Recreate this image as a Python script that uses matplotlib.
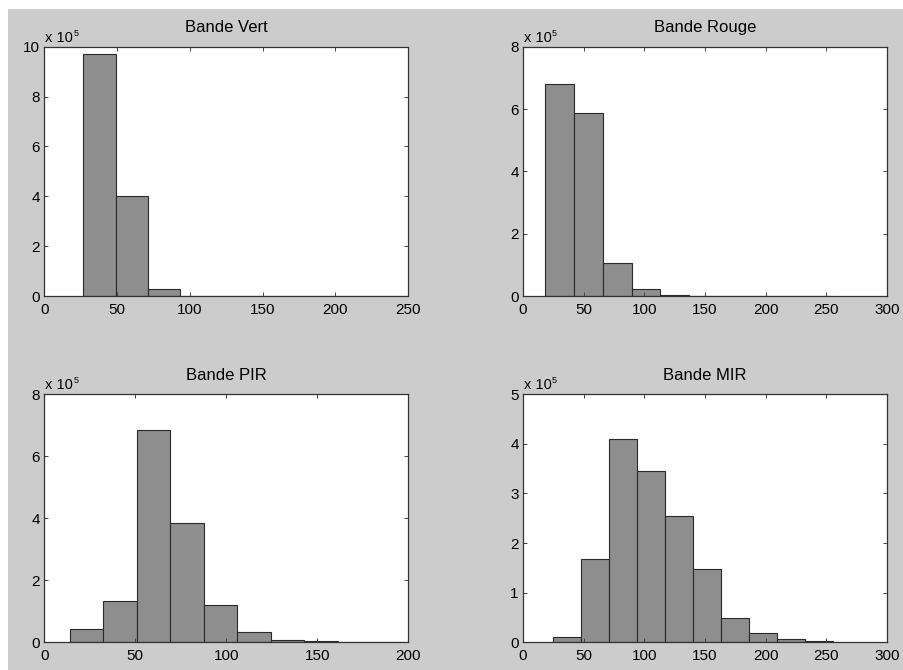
import matplotlib
matplotlib.use("Agg")
import matplotlib.pyplot as plt
from matplotlib.patches import Rectangle
import numpy as np

plt.rcParams['font.family'] = ['Liberation Sans', 'DejaVu Sans']

# ---- data (counts; bin edges) ----
titles = ["Bande Vert", "Bande Rouge", "Bande PIR", "Bande MIR"]

vert_edges = [26.8, 49.0, 71.2, 93.4, 115.6, 137.8, 160.0, 182.2, 204.4, 226.6, 248.8]
vert_counts = [969000, 401000, 29000, 1000, 500, 300, 200, 200, 200, 400]

rouge_edges = [18.4, 42.1, 65.8, 89.5, 113.2, 136.9, 160.6, 184.3, 208.0, 231.7, 255.2]
rouge_counts = [680000, 588000, 107000, 21000, 4000, 1000, 500, 400, 400, 1000]

pir_edges = [14.0, 32.4, 50.8, 69.2, 87.6, 106.0, 124.4, 142.8, 161.2, 179.6, 198.0]
pir_counts = [44000, 132000, 685000, 385000, 120000, 32000, 8600, 3000, 2000, 1000]

mir_edges = [25.0, 48.0, 71.0, 94.1, 117.1, 140.1, 163.1, 186.1, 209.2, 232.2, 255.2]
mir_counts = [10000, 167000, 410000, 345000, 254000, 147000, 48000, 19000, 6000, 2500]

xlims = [250, 300, 200, 300]
xticks_list = [[0, 50, 100, 150, 200, 250],
               [0, 50, 100, 150, 200, 250, 300],
               [0, 50, 100, 150, 200],
               [0, 50, 100, 150, 200, 250, 300]]
ylims = [10e5, 8e5, 8e5, 5e5]
yticks_list = [[0, 2e5, 4e5, 6e5, 8e5, 10e5],
               [0, 2e5, 4e5, 6e5, 8e5],
               [0, 2e5, 4e5, 6e5, 8e5],
               [0, 1e5, 2e5, 3e5, 4e5, 5e5]]

all_edges = [vert_edges, rouge_edges, pir_edges, mir_edges]
all_counts = [vert_counts, rouge_counts, pir_counts, mir_counts]

W, H = 904, 670
fig = plt.figure(figsize=(W / 100, H / 100), dpi=100)
fig.patch.set_facecolor('white')
fig.patches.append(Rectangle((8 / W, 0), 1 - 8 / W, 1 - 9 / H, transform=fig.transFigure,
                             facecolor='#cccccc', edgecolor='none', zorder=-10))

positions = [
    [44.3 / W, 1 - 296 / H, 364 / W, 249.3 / H],
    [523 / W, 1 - 296 / H, 364 / W, 249.3 / H],
    [44.3 / W, 1 - 642.3 / H, 364 / W, 248 / H],
    [523 / W, 1 - 642.3 / H, 364 / W, 248 / H],
]

for i in range(4):
    ax = fig.add_axes(positions[i])
    ax.set_facecolor('white')
    edges = np.array(all_edges[i])
    counts = np.array(all_counts[i])
    ax.bar(edges[:-1], counts, width=np.diff(edges), align='edge',
           color='#8e8e8e', edgecolor='#2a2a2a', linewidth=0.8)
    ax.set_xlim(0, xlims[i])
    ax.set_ylim(0, ylims[i])
    ax.set_xticks(xticks_list[i])
    ax.set_yticks(yticks_list[i])
    ax.set_xticklabels([f"{t:g}" for t in xticks_list[i]])
    ax.set_yticklabels([f"{t / 1e5:g}" for t in yticks_list[i]])
    ax.tick_params(direction='in', length=2.6, width=0.7, color='#444444',
                   top=True, right=True, labelsize=11, labelcolor='black')
    ax.tick_params(axis='x', pad=5)
    ax.tick_params(axis='y', pad=3)
    for s in ax.spines.values():
        s.set_color('#333333')
        s.set_linewidth(0.9)
    ax.set_title(titles[i], fontsize=12, pad=10.5)
    ax.annotate("x 10", xy=(0, 1), xycoords='axes fraction', xytext=(1, 5),
                textcoords='offset pixels', fontsize=10.5, ha='left', va='baseline')
    ax.annotate("5", xy=(0, 1), xycoords='axes fraction', xytext=(29, 11),
                textcoords='offset pixels', fontsize=6.5, ha='left', va='baseline')

fig.savefig("out.png", dpi=100, facecolor=fig.get_facecolor())
